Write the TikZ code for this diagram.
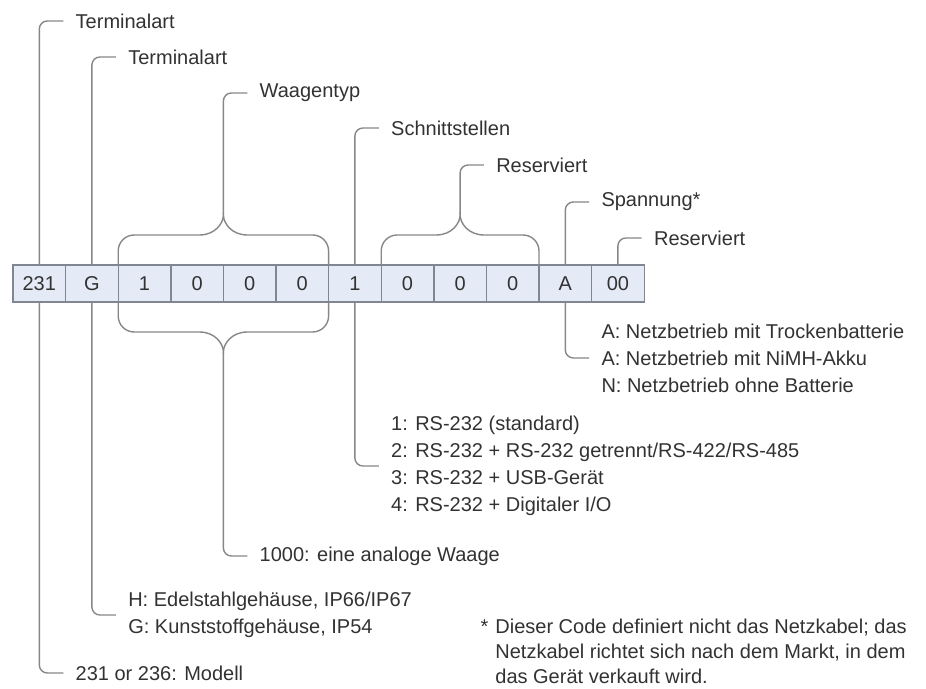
\documentclass[tikz,border=0pt]{standalone}
\usepackage{fontspec}
\setmainfont{Liberation Sans}
\usepackage{tikz}
\usetikzlibrary{positioning,calc}
\definecolor{CodeFill}{RGB}{228,235,247}
\definecolor{CodeEdge}{RGB}{128,134,146}
\definecolor{LeadGray}{RGB}{135,135,135}
\definecolor{TextGray}{RGB}{50,50,50}

\begin{document}
\begin{tikzpicture}[
		x=0.5pt,
		y=-0.5pt,
		font=\fontsize{10}{13.5}\selectfont,
		text=TextGray,
		node distance=0pt,
		cell/.style={
			draw=CodeEdge,
			fill=CodeFill,
			line width=0.7pt,
			minimum width=26.3pt,
			minimum height=18.5pt,
			inner sep=0pt,
			outer sep=0pt
		},
		lead/.style={
			draw=LeadGray,
			line width=0.7pt,
			rounded corners=4pt
		},
		brace/.style={
			draw=LeadGray,
			line width=0.7pt
		},
		tag/.style={
			anchor=west,
			inner xsep=6pt,
			inner ysep=0pt,
			align=left
		}
	]
	
	\useasboundingbox (0,0) rectangle (926,689);
	
	\node[cell] (mdl) at (39.3,283.5) {231};
	\node[cell, right=of mdl] (term) {G};
	\node[cell, right=of term] (wa) {1};
	\node[cell, right=of wa] (wb) {0};
	\node[cell, right=of wb] (wc) {0};
	\node[cell, right=of wc] (wd) {0};
	\node[cell, right=of wd] (sif) {1};
	\node[cell, right=of sif] (ra) {0};
	\node[cell, right=of ra] (rb) {0};
	\node[cell, right=of rb] (rc) {0};
	\node[cell, right=of rc] (volt) {A};
	\node[cell, right=of volt] (rsv) {00};
	
	\node[tag] (tTerm1) at (63.3,21) {Terminalart};
	\node[tag] (tTerm2) at (115.9,57) {Terminalart};
	\node[tag] (tWaage) at (247.3,93) {Waagentyp};
	\node[tag] (tSchnitt) at (378.8,128) {Schnittstellen};
	\node[tag] (tRes1) at (483.9,165) {Reserviert};
	\node[tag] (tVolt) at (589.1,202) {Spannung*};
	\node[tag] (tRes2) at (641.7,238) {Reserviert};
	
	\node[tag] (bVolt) at (589.1,358)
	{A: Netzbetrieb mit Trockenbatterie\\
		A: Netzbetrieb mit NiMH-Akku\\
		N: Netzbetrieb ohne Batterie};
	\node[tag] (bSchnitt) at (378.8,466)
	{1: RS-232 (standard)\\
		2: RS-232 + RS-232 getrennt/RS-422/RS-485\\
		3: RS-232 + USB-Gerät\\
		4: RS-232 + Digitaler I/O};
	\node[tag] (bWaage) at (247.3,556) {1000: eine analoge Waage};
	\node[tag] (bTerm) at (115.9,615)
	{H: Edelstahlgehäuse, IP66/IP67\\
		G: Kunststoffgehäuse, IP54};
	\node[tag] (bMdl) at (63.3,673) {231 or 236: Modell};
	
	\node[tag, inner xsep=0pt, font=\fontsize{10}{12.5}\selectfont] (note) at (495,651)
	{\llap{*\hspace{3.5pt}}Dieser Code definiert nicht das Netzkabel; das\\
		Netzkabel richtet sich nach dem Markt, in dem\\
		das Gerät verkauft wird.};
	
	\coordinate (wtUp) at ($(wb.north east)+(0,25pt)$);
	\coordinate (wtDown) at ($(wb.south east)+(0,-25pt)$);
	\coordinate (rsUp) at ($(rb.north)+(0,25pt)$);
	
	\draw[brace] (wa.north west)
	-- ++(0,7pt) arc[start angle=180, end angle=90, radius=8pt]
	-- ($(wtUp)+(-12pt,-10pt)$)
	.. controls ($(wtUp)+(-4pt,-10pt)$) and ($(wtUp)+(0,-4pt)$) .. (wtUp)
	.. controls ($(wtUp)+(0,-4pt)$) and ($(wtUp)+(4pt,-10pt)$) .. ($(wtUp)+(12pt,-10pt)$)
	-- ($(wd.north east)+(-8pt,15pt)$) arc[start angle=90, end angle=0, radius=8pt]
	-- (wd.north east);
	
	\draw[brace] (wa.south west)
	-- ++(0,-7pt) arc[start angle=180, end angle=270, radius=8pt]
	-- ($(wtDown)+(-12pt,10pt)$)
	.. controls ($(wtDown)+(-4pt,10pt)$) and ($(wtDown)+(0,4pt)$) .. (wtDown)
	.. controls ($(wtDown)+(0,4pt)$) and ($(wtDown)+(4pt,10pt)$) .. ($(wtDown)+(12pt,10pt)$)
	-- ($(wd.south east)+(-8pt,-15pt)$) arc[start angle=270, end angle=360, radius=8pt]
	-- (wd.south east);
	
	\draw[brace] (ra.north west)
	-- ++(0,7pt) arc[start angle=180, end angle=90, radius=8pt]
	-- ($(rsUp)+(-12pt,-10pt)$)
	.. controls ($(rsUp)+(-4pt,-10pt)$) and ($(rsUp)+(0,-4pt)$) .. (rsUp)
	.. controls ($(rsUp)+(0,-4pt)$) and ($(rsUp)+(4pt,-10pt)$) .. ($(rsUp)+(12pt,-10pt)$)
	-- ($(rc.north east)+(-8pt,15pt)$) arc[start angle=90, end angle=0, radius=8pt]
	-- (rc.north east);
	
	\draw[lead] (mdl.north) |- (tTerm1.west);
	\draw[lead] (term.north) |- (tTerm2.west);
	\draw[lead] (wtUp) |- (tWaage.west);
	\draw[lead] (sif.north) |- (tSchnitt.west);
	\draw[lead] (rsUp) |- (tRes1.west);
	\draw[lead] (volt.north) |- (tVolt.west);
	\draw[lead] (rsv.north) |- (tRes2.west);
	
	\draw[lead] (volt.south) |- (bVolt.west);
	\draw[lead] (sif.south) |- (bSchnitt.west);
	\draw[lead] (wtDown) |- (bWaage.west);
	\draw[lead] (term.south) |- (bTerm.west);
	\draw[lead] (mdl.south) |- (bMdl.west);
	
\end{tikzpicture}
\end{document}
